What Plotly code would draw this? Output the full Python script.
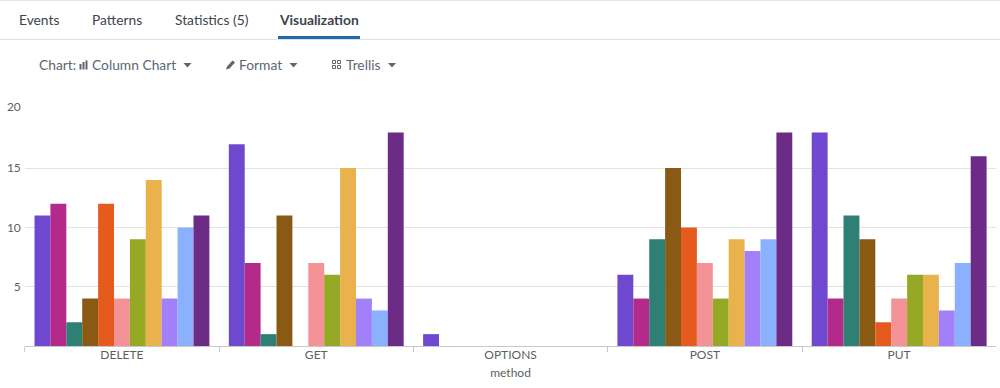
import plotly.graph_objects as go

W, H = 1000, 388

methods = ["DELETE", "GET", "OPTIONS", "POST", "PUT"]
s1 = [11, 17, 1, 6, 18]
s2 = [12, 7, 0, 4, 4]
s3 = [2, 1, 0, 9, 11]
s4 = [4, 11, 0, 15, 9]
s5 = [12, 0, 0, 10, 2]
s6 = [4, 7, 0, 7, 4]
s7 = [9, 6, 0, 4, 6]
s8 = [14, 15, 0, 9, 6]
s9 = [4, 4, 0, 8, 3]
s10 = [10, 3, 0, 9, 7]
s11 = [11, 18, 0, 18, 16]
series = [s1, s2, s3, s4, s5, s6, s7, s8, s9, s10, s11]
colors = ["#6f48d0", "#b32a8a", "#2e7f74", "#8a5a14", "#e55b1e", "#f49397",
          "#95a926", "#e9b24c", "#a280fa", "#8bb1fe", "#6c2b85"]
y_ticks = [5, 10, 15, 20.15]
y_tick_labels = ["5", "10", "15", "20"]

FONT = "Lato, 'Open Sans', sans-serif"
INK = "#3c444d"
GREY = "#5c6773"
AXIS = "#5e5e5e"


def px(x):
    return x / W


def py(y):
    return 1 - y / H


fig = go.Figure()
for i, (vals, c) in enumerate(zip(series, colors)):
    fig.add_bar(x=methods, y=vals, marker=dict(color=c, line=dict(width=0)), name=f"series {i + 1}")

annotations = []


def label(x, y, text, size=13.8, color=INK, anchor="left"):
    annotations.append(dict(xref="paper", yref="paper", x=px(x - 2), y=py(y), text=text,
                            showarrow=False, xanchor=anchor, yanchor="middle",
                            font=dict(size=size, color=color, family=FONT)))


label(19, 19, "Events")
label(92, 19, "Patterns")
label(175, 19, "Statistics (5)")
label(279, 19, "<b>Visualization</b>")
label(39, 65, "Chart:", color=GREY)
label(92, 65, "Column Chart", color=GREY)
label(239, 65, "Format", color=GREY)
label(346, 65, "Trellis", color=GREY)

shapes = []


def rect(x0, y0, x1, y1, color, line=None):
    shapes.append(dict(type="rect", xref="paper", yref="paper", x0=px(x0), x1=px(x1),
                       y0=py(y0), y1=py(y1), fillcolor=color if line is None else "rgba(0,0,0,0)",
                       line=dict(width=0 if line is None else 1, color=line or color), layer="above"))


def path(points, color):
    d = "M " + " L ".join(f"{px(x)},{py(y)}" for x, y in points) + " Z"
    shapes.append(dict(type="path", xref="paper", yref="paper", path=d, fillcolor=color,
                       line=dict(width=0), layer="above"))


rect(0, 0, 1000, 1, "#e6e6e6")
rect(0, 39, 1000, 40, "#e0e0e0")
rect(278, 36, 360, 39, "#1e6bb0")
# column chart icon
rect(79.5, 64, 81.5, 69.5, GREY)
rect(82.5, 62, 84.5, 69.5, GREY)
rect(85.5, 60.5, 87.5, 69.5, GREY)
# caret icons
for cx in (187.5, 293.5, 392):
    path([(cx - 4, 63), (cx + 4, 63), (cx, 67.5)], GREY)
# pencil icon
path([(226, 69.5), (227, 66.5), (232.5, 60.5), (235, 62.5), (229.5, 68.5)], GREY)
# trellis icon
for x0 in (332.5, 337.5):
    for y0 in (60.5, 65.5):
        rect(x0, y0, x0 + 3, y0 + 3, GREY, line=GREY)

fig.update_layout(
    width=W, height=H, margin=dict(l=0, r=0, t=0, b=0, autoexpand=False),
    barmode="group", bargap=0.1, bargroupgap=0,
    showlegend=False, paper_bgcolor="white", plot_bgcolor="white",
    font=dict(family=FONT, size=12, color=AXIS),
    annotations=annotations, shapes=shapes,
    xaxis=dict(domain=[px(24.8), px(996.3)], type="category", tickson="boundaries", ticks="outside",
               ticklen=5, tickcolor="#c8c8c8", tickwidth=1, showline=True, linecolor="#c8c8c8",
               linewidth=1, showgrid=False, tickfont=dict(size=12, color=AXIS),
               ticklabelstandoff=-2,
               title=dict(text="method", font=dict(size=12, color=AXIS), standoff=7)),
    yaxis=dict(domain=[py(346), py(107)], range=[0, 20.15], tickvals=y_ticks, ticktext=y_tick_labels, ticks="",
               showgrid=True, gridcolor="#e4e4e4", gridwidth=1, zeroline=False, showline=False,
               tickfont=dict(size=12, color=AXIS), ticklabelstandoff=3),
)
fig.write_html("out.html", config=dict(displayModeBar=False),
               post_script="document.body.style.margin='0';document.documentElement.style.overflow='hidden';")
